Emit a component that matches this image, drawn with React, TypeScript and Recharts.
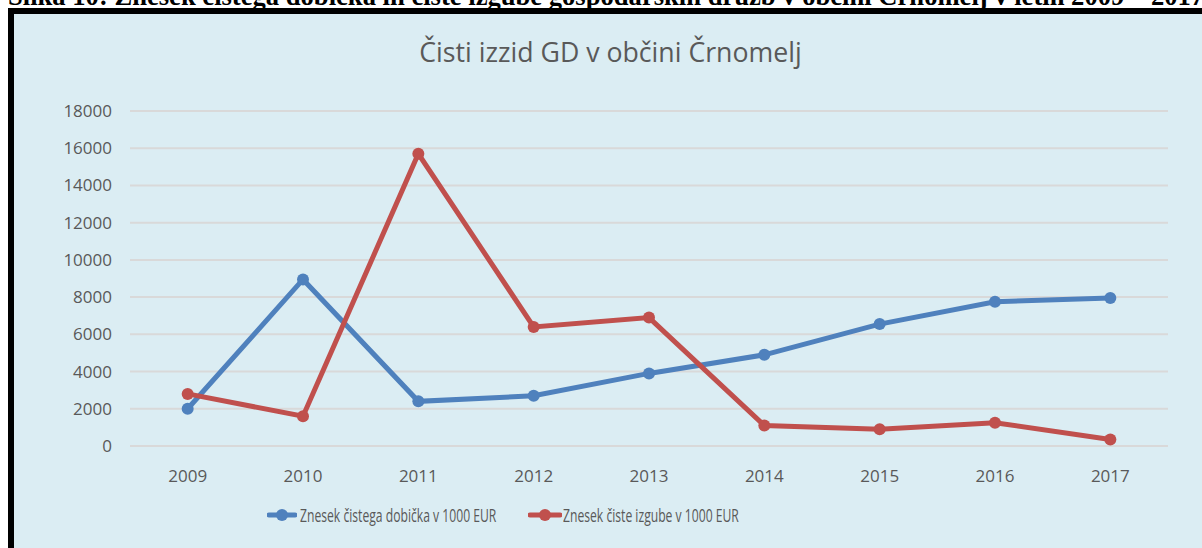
import React from 'react';
import { LineChart, Line, XAxis, YAxis, CartesianGrid, Legend } from 'recharts';

const years = ['2009', '2010', '2011', '2012', '2013', '2014', '2015', '2016', '2017'];
const dobicek = [2000, 8950, 2400, 2700, 3900, 4900, 6550, 7750, 7950];
const izguba = [2800, 1600, 15700, 6400, 6900, 1100, 900, 1250, 350];
const yTicks = [0, 2000, 4000, 6000, 8000, 10000, 12000, 14000, 16000, 18000];
const seriesNames = ['Znesek čistega dobička v 1000 EUR', 'Znesek čiste izgube v 1000 EUR'];
const chartTitle = 'Čisti izzid GD v občini Črnomelj';
const caption = 'Slika 10: Znesek čistega dobička in čiste izgube gospodarskih družb v občini Črnomelj v letih 2009 – 2017';

const BLUE = '#4F81BD';
const RED = '#C0504D';
const TEXT = '#595959';
const FONT = "'Open Sans', sans-serif";

const data = years.map((y, i) => ({ year: y, dobicek: dobicek[i], izguba: izguba[i] }));

const legendItems = [
  { name: seriesNames[0], color: BLUE, iconLeft: 2, iconW: 30, textLeft: 35 },
  { name: seriesNames[1], color: RED, iconLeft: 263, iconW: 34, textLeft: 298 },
];

const renderLegend = () => (
  <div style={{ position: 'relative', width: 700, height: 24, fontFamily: FONT, fontSize: 18, color: TEXT, whiteSpace: 'nowrap' }}>
    {legendItems.map((it, i) => (
      <React.Fragment key={i}>
        <svg width={it.iconW} height={14} style={{ position: 'absolute', left: it.iconLeft, top: 5 }}>
          <line x1={2} y1={7} x2={it.iconW - 2} y2={7} stroke={it.color} strokeWidth={5} strokeLinecap="round" />
          <circle cx={it.iconW / 2} cy={7} r={6} fill={it.color} />
        </svg>
        <span
          style={{
            position: 'absolute',
            left: it.textLeft,
            top: 0,
            lineHeight: '24px',
            transform: 'scaleX(0.675)',
            transformOrigin: 'left center',
          }}
        >
          {it.name}
        </span>
      </React.Fragment>
    ))}
  </div>
);

export default function App() {
  return (
    <div style={{ position: 'fixed', left: 0, top: 0, width: 1202, height: 548, overflow: 'hidden', background: '#fff' }}>
      <div
        style={{
          position: 'absolute',
          left: 8,
          top: -17,
          fontFamily: "'Liberation Serif', serif",
          fontWeight: 'bold',
          fontSize: 26.6,
          lineHeight: '27px',
          whiteSpace: 'nowrap',
          color: '#000',
        }}
      >
        {caption}
      </div>
      <div
        style={{
          position: 'absolute',
          left: 8,
          top: 8,
          width: 1300,
          height: 700,
          border: '6px solid #000',
          background: '#DBEDF3',
        }}
      />
      <div
        style={{
          position: 'absolute',
          left: 0,
          top: 33,
          width: 1202,
          textAlign: 'center',
          paddingLeft: 19,
          boxSizing: 'border-box',
          fontFamily: FONT,
          fontSize: 26.7,
          color: TEXT,
          whiteSpace: 'nowrap',
        }}
      >
        {chartTitle}
      </div>
      <div style={{ position: 'absolute', left: 0, top: 0 }}>
        <LineChart width={1202} height={548} data={data} margin={{ top: 111, right: 34, left: 60, bottom: 48 }}>
          <CartesianGrid horizontal vertical={false} stroke="#D9D9D9" strokeWidth={2} />
          <XAxis
            dataKey="year"
            scale="band"
            axisLine={false}
            tickLine={false}
            tickMargin={18}
            height={30}
            tick={{ fill: TEXT, fontSize: 17, fontFamily: FONT }}
          />
          <YAxis
            domain={[0, 18000]}
            ticks={yTicks}
            width={70}
            axisLine={false}
            tickLine={false}
            tickMargin={12}
            interval={0}
            tick={{ fill: TEXT, fontSize: 17, fontFamily: FONT }}
          />
          <Legend content={renderLegend} wrapperStyle={{ left: 265, top: 503, width: 700, height: 24 }} />
          <Line
            type="linear"
            dataKey="dobicek"
            name={seriesNames[0]}
            stroke={BLUE}
            strokeWidth={5}
            dot={{ r: 6, fill: BLUE, stroke: BLUE, strokeWidth: 0 }}
            activeDot={false}
            isAnimationActive={false}
          />
          <Line
            type="linear"
            dataKey="izguba"
            name={seriesNames[1]}
            stroke={RED}
            strokeWidth={5}
            dot={{ r: 6, fill: RED, stroke: RED, strokeWidth: 0 }}
            activeDot={false}
            isAnimationActive={false}
          />
        </LineChart>
      </div>
    </div>
  );
}
